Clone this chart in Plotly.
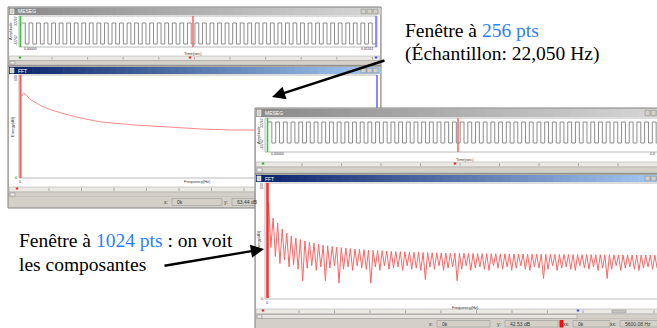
import plotly.graph_objects as go

W, H = 657, 328

# ---------------------------------------------------------------- data
# Captured square wave, one level per half cycle (1 = high, 0 = low)
wave_256_levels = [
    1, 0, 1, 0, 1, 0, 1, 0, 1, 0, 1, 0, 1, 0, 1, 0, 1, 0, 1, 0,
    1, 0, 1, 0, 1, 0, 1, 0, 1, 0, 1, 0, 1, 0, 1, 0, 1, 0, 1, 0,
    1, 0, 1, 0, 1, 0, 1, 0, 1, 0, 1, 0, 1, 0, 1, 0, 1, 0, 1, 0,
    1, 0, 1, 0, 1, 0, 1, 0, 1, 0, 1, 0, 1, 0, 1, 0, 1, 0, 1, 0,
    1, 0, 1, 0, 1, 0, 1, 0, 1, 0, 1, 0, 1, 0,
]
wave_1024_levels = [
    1, 0, 1, 0, 1, 0, 1, 0, 1, 0, 1, 0, 1, 0, 1, 0, 1, 0, 1, 0,
    1, 0, 1, 0, 1, 0, 1, 0, 1, 0, 1, 0, 1, 0, 1, 0, 1, 0, 1, 0,
    1, 0, 1, 0, 1, 0, 1, 0, 1, 0, 1, 0, 1, 0, 1, 0, 1, 0, 1, 0,
    1, 0, 1, 0, 1, 0, 1, 0, 1, 0, 1, 0, 1, 0, 1, 0, 1, 0, 1, 0,
    1, 0, 1, 0, 1, 0, 1, 0, 1, 0, 1, 0, 1, 0, 1, 0, 1, 0, 1, 0,
    1, 0,
]

# 256-point FFT: smooth spectrum (Hz, dB)
fft256_hz = [0, 31, 92, 185, 277, 431, 646, 954, 1478, 2002, 2494, 3510,
             4558, 5574, 6590, 7268, 7500]
fft256_db = [79.6, 79.6, 82.5, 80.6, 76.7, 73.8, 69.9, 66.0, 61.2, 57.3,
             54.4, 51.5, 49.5, 47.6, 46.6, 46.6, 46.5]

# 1024-point FFT: level of each harmonic and of the notch that follows it (dB)
fft1024_peak_db = [
    82.6, 69.6, 65.2, 60.0, 56.5, 54.0, 52.2, 50.8, 49.6, 48.5,
    47.6, 46.8, 46.0, 45.4, 44.8, 44.3, 43.8, 43.4, 43.0, 42.6,
    42.3, 42.0, 41.7, 41.4, 41.2, 41.0, 40.8, 40.6, 40.4, 40.3,
    40.1, 40.0, 39.8, 39.7, 39.6, 39.5, 39.4, 39.3, 39.2, 39.1,
    39.0, 39.0, 38.9, 38.8, 38.8, 38.7, 38.7, 38.6, 38.6, 38.5,
    38.5, 38.4, 38.4, 38.3, 38.3, 38.2, 38.2, 38.2, 38.1, 38.1,
    38.0, 38.0, 38.0, 37.9, 37.9, 37.9, 37.8, 37.8, 37.8, 37.7,
    37.7, 37.7, 37.6, 37.6, 37.6, 37.6, 37.5, 37.5, 37.5, 37.5,
    37.4, 37.4, 37.4, 37.4, 37.3, 37.3,
]
fft1024_notch_db = [
    44, 36, 30, 33, 27, 29, 25, 15, 26, 28,
    24, 27, 15, 26, 28, 13, 25, 27, 24, 28,
    26, 25, 13, 27, 24, 28, 25, 26, 27, 24,
    28, 25, 26, 24, 16, 27, 25, 28, 24, 26,
    27, 15, 25, 28, 24, 26, 27, 25, 24, 28,
    26, 25, 27, 24, 26, 28, 25, 24, 27, 26,
    17, 25, 28, 24, 26, 27, 25, 24, 28, 26,
    25, 27, 24, 26, 17, 25, 28, 24, 26, 27,
    25, 24, 26, 27, 25, 26,
]
first_harmonic_hz = 30.0
harmonic_step_hz = 127.0
nyquist_hz = 11025.0


# ---------------------------------------------------------------- helpers
def X(p):
    return p / W


def Y(p):
    return 1 - p / H


def lin_range(v0, p0, v1, p1, d0, d1):
    k = (v1 - v0) / (p1 - p0)
    return [v0 + (d0 - p0) * k, v0 + (d1 - p0) * k]


shapes = []
notes = []


def rect(x0, y0, x1, y1, fill=None, line=None, lw=1):
    shapes.append(dict(
        type="rect", xref="paper", yref="paper", layer="below",
        x0=X(x0), x1=X(x1), y0=Y(y1), y1=Y(y0),
        fillcolor=fill or "rgba(0,0,0,0)",
        line=dict(color=line or "rgba(0,0,0,0)", width=lw if line else 0)))


def seg(x0, y0, x1, y1, color, w=1):
    shapes.append(dict(
        type="line", xref="paper", yref="paper", layer="below",
        x0=X(x0), x1=X(x1), y0=Y(y0), y1=Y(y1),
        line=dict(color=color, width=w)))


def hexmix(c0, c1, t):
    a = [int(c0[i:i + 2], 16) for i in (1, 3, 5)]
    b = [int(c1[i:i + 2], 16) for i in (1, 3, 5)]
    return "rgb(%d,%d,%d)" % tuple(round(a[i] + (b[i] - a[i]) * t) for i in range(3))


def label(x, y, text, size=5, color="#333333", angle=0, xanchor="center",
          family="Liberation Sans"):
    notes.append(dict(
        xref="paper", yref="paper", x=X(x), y=Y(y), text=text, showarrow=False,
        xanchor=xanchor, yanchor="middle", textangle=angle,
        font=dict(family=family, size=size, color=color)))


def title_bar(x0, x1, y0, y1, c0, c1, name, n=48):
    step = (x1 - x0) / n
    for i in range(n):
        rect(x0 + i * step, y0, x0 + (i + 1) * step + 0.6, y1,
             fill=hexmix(c0, c1, i / (n - 1)))
    rect(x0 + 1, y0 + 1, x0 + 5, y1 - 1, fill="#d4d0c8", line="#ffffff", lw=0.5)
    label(x0 + 7, (y0 + y1) / 2, name, size=5, color="#ffffff", xanchor="left")
    for k in range(3):
        bx = x1 - 19 + k * 6
        rect(bx, y0 + 1.2, bx + 5, y1 - 1.2, fill="#d4d0c8", line="#808080", lw=0.5)


def ruler(x0, x1, y0, y1, first, step, markers):
    rect(x0, y0, x1, y1, fill="#ebe9e4", line="#a0a0a0", lw=0.5)
    t = first
    while t < x1 - 2:
        seg(t, y0 + 1, t, y1 - 1, "#9a9a9a", 0.8)
        t += step
    for mx, mc in markers:
        rect(mx - 1.2, y0 + 0.5, mx + 1.2, y0 + 2.5, fill=mc)


def scrollbar(x0, x1, y0, y1, thumb_end=None):
    rect(x0, y0, x1, y1, fill="#d4d0c8", line="#a0a0a0", lw=0.5)
    rect(x0 + 1, y0 + 1, x0 + 6, y1 - 1, fill="#eeeeee", line="#808080", lw=0.5)
    if thumb_end is not None:
        rect(x0 + 6, y0 + 0.5, thumb_end, y1 - 0.5, fill="#e6e4df", line="#909090", lw=0.5)


def status_box(x0, x1, y0, y1, caption, value):
    label(x0 - 2, (y0 + y1) / 2, caption, size=5, xanchor="right")
    rect(x0, y0, x1, y1, fill="#d4d0c8", line="#909090", lw=0.5)
    label(x0 + 3, (y0 + y1) / 2, value, size=5, xanchor="left")


# ---------------------------------------------------------------- window: 256-pt signal
rect(8, 7, 381, 66, fill="#d4d0c8", line="#808080")
title_bar(9, 380, 8, 15, "#8a8a8a", "#d6d6d6", "MESEG")
rect(9, 15, 380, 56, fill="#ffffff")
rect(19, 16, 377, 47, fill="#ffffff", line="#a8a8a8", lw=0.8)
seg(20.5, 16, 20.5, 47, "#33cc33", 1.6)
seg(193, 16, 193, 47, "#ff5555", 1.4)
seg(376, 16, 376, 47, "#6666ff", 1.4)
label(11, 31, "Amplitude", size=4, angle=-90)
label(16, 21, "32767", size=3.5, angle=-90)
label(16, 41, "-32767", size=3.5, angle=-90)
label(22, 49.5, "0.00000", size=3.5, xanchor="left")
label(375, 49.5, "0.01161", size=3.5, xanchor="right")
label(193, 53, "Time(sec)", size=4)
ruler(9, 380, 56, 60.5, 52, 35.6, [(20, "#33aa33"), (190, "#ee2222"), (376, "#4444ff")])
scrollbar(9, 380, 60.5, 65)

# ---------------------------------------------------------------- window: 256-pt FFT
rect(8, 66, 381, 208, fill="#d4d0c8", line="#808080")
title_bar(9, 380, 67, 74, "#0a246a", "#a6caf0", "FFT")
rect(9, 74, 380, 187, fill="#ffffff")
rect(19, 75, 377, 178, fill="#ffffff", line="#a8a8a8", lw=0.8)
seg(377, 75, 377, 109, "#6666ff", 1.4)
label(12, 127, "Energy(dB)", size=4, angle=-90)
label(16, 78, "100", size=3.5, angle=-90)
label(16, 177, "0", size=4)
label(20, 181, "0", size=4)
label(197, 181, "Frequency(Hz)", size=4)
ruler(9, 380, 187, 192, 49, 32.5, [(17, "#ee2222")])
scrollbar(9, 380, 192, 197)
rect(9, 197, 380, 207, fill="#d4d0c8")
status_box(172, 222, 198.5, 205.5, "x:", "0k")
status_box(232, 300, 198.5, 205.5, "y:", "63.44 dB")

# ---------------------------------------------------------------- window: 1024-pt signal
rect(255, 108, 660, 174, fill="#d4d0c8", line="#808080")
title_bar(256, 664, 109, 117, "#8a8a8a", "#d6d6d6", "MESEG")
rect(256, 117, 660, 162, fill="#ffffff")
rect(265, 118, 660, 152, fill="#ffffff", line="#a8a8a8", lw=0.8)
seg(267.5, 118, 267.5, 152, "#33cc33", 1.6)
seg(458, 118, 458, 152, "#ff5555", 1.4)
label(258, 135, "Amplitude", size=4, angle=-90)
label(262, 123, "32767", size=3.5, angle=-90)
label(262, 145, "-32767", size=3.5, angle=-90)
label(269, 154.5, "0.00000", size=3.5, xanchor="left")
label(657, 154.5, "0.0", size=3.5, xanchor="right")
label(465, 159, "Time(sec)", size=4)
ruler(256, 660, 162, 167, 302, 39.5, [(263, "#33aa33"), (455, "#ee2222")])
scrollbar(256, 660, 167, 173)

# ---------------------------------------------------------------- window: 1024-pt FFT
rect(255, 174, 660, 330, fill="#d4d0c8", line="#808080")
title_bar(256, 664, 175, 182, "#0a246a", "#a6caf0", "FFT")
rect(256, 182, 660, 309, fill="#ffffff")
rect(265, 183, 660, 299, fill="#ffffff", line="#a8a8a8", lw=0.8)
label(258, 241, "Energy(dB)", size=4, angle=-90)
label(262, 186, "100", size=3.5, angle=-90)
label(262, 298, "0", size=4)
label(267, 302, "0", size=4)
label(465, 307, "Frequency(Hz)", size=4)
ruler(256, 660, 309, 314, 299, 35.5, [(263, "#ee2222"), (578, "#4444ff")])
rect(612, 310, 626, 313, fill="#c8c6c0", line="#909090", lw=0.5)
scrollbar(256, 660, 314, 319, thumb_end=577)
rect(256, 319, 660, 328, fill="#d4d0c8")
status_box(437, 490, 320.5, 327, "x:", "0k")
status_box(505, 558, 320.5, 327, "y:", "42.53 dB")
rect(559.5, 320, 563.5, 327.5, fill="#ee1111")
status_box(573, 610, 320.5, 327, "xx:", "0k")
status_box(620, 660, 320.5, 327, "xx:", "5600.08 Hz")

# ---------------------------------------------------------------- traces
fig = go.Figure()


def wave_xy(levels):
    return list(range(len(levels) + 1)), list(levels) + [levels[-1]]


wx, wy = wave_xy(wave_256_levels)
fig.add_trace(go.Scatter(x=wx, y=wy, mode="lines", line_shape="hv",
                         line=dict(color="#8c8c8c", width=1), xaxis="x", yaxis="y"))

fig.add_trace(go.Scatter(x=fft256_hz, y=fft256_db, mode="lines",
                         line=dict(color="#ff8a8a", width=1), xaxis="x2", yaxis="y2"))
fig.add_trace(go.Scatter(x=[0, 0], y=[0, 100], mode="lines",
                         line=dict(color="#ff5c5c", width=2), xaxis="x2", yaxis="y2"))

wx, wy = wave_xy(wave_1024_levels)
fig.add_trace(go.Scatter(x=wx, y=wy, mode="lines", line_shape="hv",
                         line=dict(color="#8c8c8c", width=1), xaxis="x3", yaxis="y3"))

comb_x, comb_y = [0.0], [fft1024_peak_db[0]]
for k, (pk, nt) in enumerate(zip(fft1024_peak_db, fft1024_notch_db)):
    f = first_harmonic_hz + k * harmonic_step_hz
    comb_x += [f, f + harmonic_step_hz / 2]
    comb_y += [pk, nt]
fig.add_trace(go.Scatter(x=comb_x, y=comb_y, mode="lines",
                         line=dict(color="#ff6464", width=1), xaxis="x4", yaxis="y4"))
fig.add_trace(go.Scatter(x=[0, 0], y=[0, 100], mode="lines",
                         line=dict(color="#ff2a2a", width=2.5), xaxis="x4", yaxis="y4"))

# ---------------------------------------------------------------- text + arrows
serif = "Liberation Serif"
blue = "#2a7fff"
label(403, 31, 'Fenêtre à <span style="color:%s">256 pts</span>' % blue,
      size=19.5, color="#000000", xanchor="left", family=serif)
label(403, 54, "(Échantillon: 22,050 Hz)", size=19.5, color="#000000",
      xanchor="left", family=serif)
label(17, 240, 'Fenêtre à <span style="color:%s">1024 pts</span> : on voit' % blue,
      size=19.5, color="#000000", xanchor="left", family=serif)
label(17, 264, "les composantes", size=19.5, color="#000000",
      xanchor="left", family=serif)

for tip, tail in [((272, 97), (386, 60)), ((264, 249), (163, 266))]:
    notes.append(dict(
        xref="paper", yref="paper", x=X(tip[0]), y=Y(tip[1]), text="",
        showarrow=True, arrowhead=2, arrowsize=1.1, arrowwidth=2.4,
        arrowcolor="#000000", ax=tail[0] - tip[0], ay=tail[1] - tip[1]))


# ---------------------------------------------------------------- axes
def axis(domain, rng):
    return dict(domain=domain, range=rng, visible=False, fixedrange=True)


layout_axes = dict(
    xaxis=axis([X(19), X(377)], lin_range(0, 21.5, len(wave_256_levels), 376, 19, 377)),
    yaxis=axis([Y(47), Y(16)], lin_range(0, 44, 1, 23, 47, 16)),
    xaxis2=axis([X(19), X(255)], lin_range(0, 20.5, nyquist_hz, 377, 19, 255)),
    yaxis2=axis([Y(178), Y(75)], lin_range(0, 178, 100, 75, 178, 75)),
    xaxis3=axis([X(265), 1.0], lin_range(0, 268, len(wave_1024_levels), 660, 265, 657)),
    yaxis3=axis([Y(152), Y(118)], lin_range(0, 143, 1, 122, 152, 118)),
    xaxis4=axis([X(265), 1.0], lin_range(0, 267.5, nyquist_hz, 662, 265, 657)),
    yaxis4=axis([Y(299), Y(183)], lin_range(0, 298, 100, 183, 299, 183)),
)
for i in (2, 3, 4):
    layout_axes["xaxis%d" % i]["anchor"] = "y%d" % i
    layout_axes["yaxis%d" % i]["anchor"] = "x%d" % i

fig.update_layout(
    width=W, height=H, margin=dict(l=0, r=0, t=0, b=0),
    paper_bgcolor="#ffffff", plot_bgcolor="rgba(0,0,0,0)",
    showlegend=False, shapes=shapes, annotations=notes, **layout_axes)

fig.write_html("out.html", config={"displayModeBar": False})
